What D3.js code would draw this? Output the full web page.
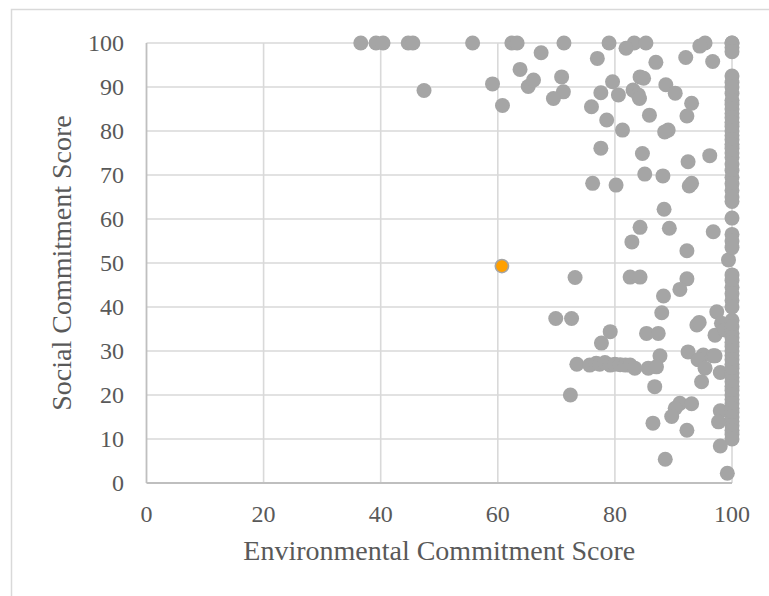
<!DOCTYPE html>
<html><head><meta charset="utf-8">
<script src="https://cdn.jsdelivr.net/npm/d3@7"></script>
<style>html,body{margin:0;padding:0;background:#fff;}svg{display:block;}</style>
</head><body>
<svg id="chart" width="769" height="596"></svg>
<script>
// Environmental commitment score (x) for grey points
const envScores = [
  36.6,39.2,40.4,44.7,45.5,55.7,62.4,63.3,71.3,79.0,83.3,85.3,95.4,
  81.9,94.5,67.4,77.0,87.0,92.1,96.7,
  47.4,59.1,60.8,63.8,65.2,66.1,70.9,71.2,69.5,77.6,79.6,80.6,76.0,78.6,81.3,
  84.3,84.9,83.1,84.0,84.2,88.7,90.3,93.1,92.3,85.9,89.1,88.5,77.6,84.7,92.5,96.2,
  85.1,88.2,92.7,93.1,76.2,80.2,88.4,84.3,89.3,82.9,96.8,92.3,99.4,
  73.2,82.6,84.3,92.3,91.1,88.3,88.0,97.4,69.9,72.6,79.2,77.7,85.4,87.4,94.0,94.4,97.1,98.2,98.8,
  73.5,75.7,76.8,77.4,78.3,79.2,80.0,80.9,81.8,82.6,83.4,85.7,87.7,87.1,92.5,95.1,96.8,94.2,95.4,97.1,
  94.8,98.0,86.8,72.4,91.1,93.1,90.3,89.7,86.5,92.3,98.0,97.7,98.0,88.6,99.2,
  100,100,100,100,100,100,100,100,100,100,100,100,100,100,100,100,100,100,100,100,100,100,100,100,100,100,100,100,100,
  100,100,100,100,100,100,100,100,100,100,100,100,100,100,100,100,100,100,100,100,100,100,100,100,100,100,100,100,100,100,100,100,100,100,100,100,100
];
// Social commitment score (y) for grey points
const socialScores = [
  100,100,100,100,100,100,100,100,100,100,100,100,100,
  98.8,99.3,97.8,96.5,95.6,96.7,95.8,
  89.2,90.7,85.8,94.0,90.1,91.6,92.3,88.9,87.4,88.7,91.2,88.2,85.5,82.5,80.2,
  92.3,92.0,89.3,88.2,87.4,90.5,88.6,86.3,83.4,83.6,80.2,79.8,76.1,74.9,73.0,74.4,
  70.2,69.8,67.5,68.1,68.1,67.7,62.2,58.1,57.9,54.8,57.1,52.8,50.7,
  46.7,46.8,46.8,46.4,44.0,42.5,38.7,38.9,37.4,37.4,34.4,31.8,34.0,34.0,35.9,36.5,33.6,36.3,34.8,
  27.0,26.8,27.2,27.0,27.4,26.8,27.0,26.9,26.8,26.8,26.1,26.1,28.9,26.4,29.8,29.1,28.9,28.0,26.1,28.9,
  23.0,25.1,21.9,20.0,18.1,18.0,17.0,15.1,13.6,12.0,16.4,13.9,8.4,5.4,2.2,
  100,100,99,98,92.5,91,90,88.5,87,86,85,84,83,82,81,80,79,78,77,76,75,74,72.5,71,69.5,68,66.5,65,64,
  60.2,56.5,55,53.5,47.3,46,44.5,43,41.5,40,37,35.5,34,33,32,31,30,29,28,27,26,25,24,23,22,21,20,19,18,17,16,15,14,13,12,11,10,9,8
];
// Highlighted point
const highlightEnv = [60.7];
const highlightSocial = [49.3];

const xTicks = [0,20,40,60,80,100];
const yTicks = [0,10,20,30,40,50,60,70,80,90,100];

const svg = d3.select("#chart");
const x = d3.scaleLinear().domain([0,100]).range([146.5,732]);
const y = d3.scaleLinear().domain([0,100]).range([483,43]);
const font = "'Liberation Serif','Times New Roman',serif";

// outer frame
svg.append("rect").attr("x",11.5).attr("y",9.5).attr("width",820).attr("height",700)
  .attr("fill","none").attr("stroke","#d9d9d9").attr("stroke-width",1.5);

// gridlines
svg.append("g").selectAll("line").data(yTicks.filter(d=>d>0)).join("line")
  .attr("x1",x(0)).attr("x2",x(100)).attr("y1",d=>y(d)).attr("y2",d=>y(d))
  .attr("stroke","#d9d9d9").attr("stroke-width",1.6);
svg.append("g").selectAll("line").data(xTicks.filter(d=>d>0)).join("line")
  .attr("x1",d=>x(d)).attr("x2",d=>x(d)).attr("y1",y(0)).attr("y2",y(100))
  .attr("stroke","#d9d9d9").attr("stroke-width",1.6);

// axis lines
svg.append("line").attr("x1",x(0)).attr("x2",x(0)).attr("y1",y(0)).attr("y2",y(100))
  .attr("stroke","#bfbfbf").attr("stroke-width",1.8);
svg.append("line").attr("x1",x(0)).attr("x2",x(100)).attr("y1",y(0)).attr("y2",y(0))
  .attr("stroke","#bfbfbf").attr("stroke-width",1.8);

// tick labels
svg.append("g").selectAll("text").data(yTicks).join("text")
  .attr("x",124).attr("y",d=>y(d)).attr("dy","0.35em").attr("text-anchor","end")
  .attr("font-family",font).attr("font-size",24).attr("fill","#595959").text(d=>d);
svg.append("g").selectAll("text").data(xTicks).join("text")
  .attr("x",d=>x(d)).attr("y",522).attr("text-anchor","middle")
  .attr("font-family",font).attr("font-size",24).attr("fill","#595959").text(d=>d);

// axis titles
svg.append("text").attr("x",(x(0)+x(100))/2).attr("y",560).attr("text-anchor","middle")
  .attr("font-family",font).attr("font-size",28).attr("fill","#595959")
  .text("Environmental Commitment Score");
svg.append("text").attr("transform",`translate(71,${(y(0)+y(100))/2}) rotate(-90)`)
  .attr("text-anchor","middle")
  .attr("font-family",font).attr("font-size",28).attr("fill","#595959")
  .text("Social Commitment Score");

// points
const pts = envScores.map((e,i)=>({e, s: socialScores[i]}));
svg.append("g").selectAll("circle").data(pts).join("circle")
  .attr("cx",d=>x(d.e)).attr("cy",d=>y(d.s)).attr("r",7.5).attr("fill","#a5a5a5");
const hp = highlightEnv.map((e,i)=>({e, s: highlightSocial[i]}));
svg.append("g").selectAll("circle").data(hp).join("circle")
  .attr("cx",d=>x(d.e)).attr("cy",d=>y(d.s)).attr("r",6.6).attr("fill","#ffa000")
  .attr("stroke","#a5a5a5").attr("stroke-width",1.6);
</script>
</body></html>
